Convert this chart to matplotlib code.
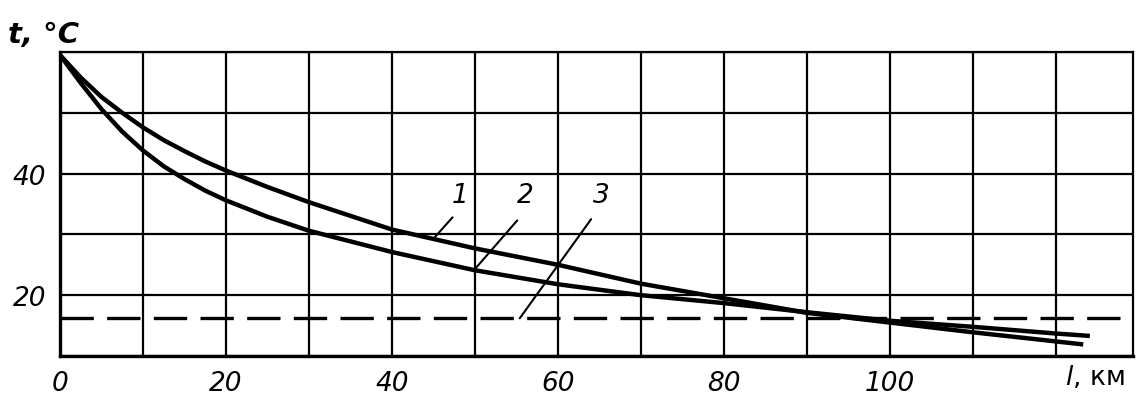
import matplotlib
matplotlib.use('Agg')
import matplotlib.pyplot as plt

plt.rcParams['font.family'] = ['DejaVu Sans']

# кривая 1
dist_1 = [0, 2.5, 5, 7.5, 10, 12.5, 15, 17.5, 20, 25, 30, 40, 50, 60, 70, 80, 90, 100, 110, 120, 123.3]
temp_1 = [59.5, 55.8, 52.6, 50.0, 47.6, 45.5, 43.7, 42.0, 40.5, 37.8, 35.3, 30.8, 27.7, 25.0, 21.9, 19.5, 17.1, 15.5, 13.9, 12.4, 11.9]
# кривая 2
dist_2 = [0, 2.5, 5, 7.5, 10, 12.5, 15, 17.5, 20, 25, 30, 40, 50, 60, 70, 80, 90, 100, 110, 120, 124.1]
temp_2 = [59.5, 54.9, 50.6, 46.9, 43.8, 41.2, 39.1, 37.2, 35.6, 32.9, 30.6, 27.1, 24.1, 21.8, 20.0, 18.7, 17.2, 15.8, 14.8, 13.7, 13.3]
# уровень 3 (штриховая)
temp_3 = 16.2

x_ticks = list(range(0, 130, 10))
x_labels = ['0', '', '20', '', '40', '', '60', '', '80', '', '100', '', '']
y_ticks = list(range(10, 61, 10))
y_labels = ['', '20', '', '40', '', '']

W, H = 1145, 410
fig = plt.figure(figsize=(W / 100, H / 100), dpi=100)
ax = fig.add_axes([60 / W, 1 - 357 / H, (1133 - 60) / W, (357 - 53) / H])

ax.set_xlim(0, 129.3)
ax.set_ylim(10, 60)
ax.set_xticks(x_ticks)
ax.set_xticklabels(x_labels, fontsize=19, style='italic')
ax.set_yticks(y_ticks)
ax.set_yticklabels(y_labels, fontsize=19, style='italic')
ax.tick_params(length=0, pad=10)
ax.grid(True, color='black', lw=1.6)
for s in ax.spines.values():
    s.set_color('black')
    s.set_linewidth(1.6)
ax.spines['left'].set_linewidth(2.4)
ax.spines['bottom'].set_linewidth(2.4)

ax.plot(dist_1, temp_1, color='black', lw=3.2, solid_capstyle='butt', solid_joinstyle='round', zorder=3)
ax.plot(dist_2, temp_2, color='black', lw=3.2, solid_capstyle='butt', solid_joinstyle='round', zorder=3)
ax.axhline(temp_3, color='black', lw=2.4, dashes=(10, 4), zorder=3)

# выноски
leaders = [('1', (48.2, 36.4), (47.3, 32.8), (45.2, 29.6)),
           ('2', (56.1, 36.4), (55.1, 32.3), (50.0, 24.3)),
           ('3', (65.2, 36.4), (64.0, 32.5), (55.4, 16.2))]
for lab, pos, p0, p1 in leaders:
    ax.text(pos[0], pos[1], lab, fontsize=19, style='italic', ha='center', va='center')
    ax.annotate('', xy=p1, xytext=p0,
                arrowprops=dict(arrowstyle='-', lw=1.5, color='black',
                                shrinkA=0, shrinkB=0))

fig.text(8 / W, 1 - 35 / H, 't, °C', fontsize=21, style='italic', fontweight='bold',
         ha='left', va='center')
fig.text(1125 / W, 1 - 378 / H, '$l$, км', fontsize=19, ha='right', va='center')

fig.savefig('out.png', dpi=100)
